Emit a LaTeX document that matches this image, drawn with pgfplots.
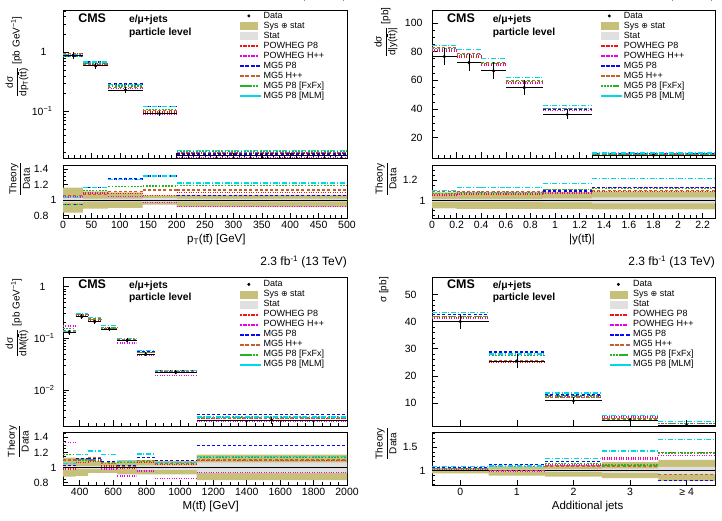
\documentclass[border=0pt]{standalone}
\usepackage{fontspec}
\setmainfont{Liberation Sans}
\newfontfamily\djv{DejaVu Sans}
\usepackage{amsmath}
\usepackage{pgfplots}
\usepackage{pgfplotstable}
\pgfplotsset{compat=1.18}

\definecolor{sysc}{RGB}{198,192,122}
\definecolor{statc}{RGB}{224,224,224}
\definecolor{cPP}{RGB}{240,20,20}
\definecolor{cPH}{RGB}{235,0,235}
\definecolor{cMP}{RGB}{10,10,245}
\definecolor{cMH}{RGB}{200,95,40}
\definecolor{cFX}{RGB}{35,180,35}
\definecolor{cML}{RGB}{0,215,235}

\tikzset{
  sPP/.style={color=cPP, line width=1.2pt, dash pattern=on 1pt off 1.4pt},
  sPH/.style={color=cPH, line width=1.2pt, dash pattern=on 1pt off 1.4pt},
  sMP/.style={color=cMP, line width=1.2pt, dash pattern=on 3pt off 2.2pt},
  sMH/.style={color=cMH, line width=1.2pt, dash pattern=on 3pt off 2.2pt},
  sFX/.style={color=cFX, line width=1.2pt, dash pattern=on 1.8pt off 1.4pt},
  sML/.style={color=cML, line width=1.2pt, dash pattern=on 5pt off 1.8pt on 1pt off 1.8pt},
}

% legend samples built from small filled pieces
\newcommand{\dotsample}[1]{\foreach \k in {0,...,6}{\fill[#1] (\k*2.6pt,-0.5pt) rectangle +(1pt,1pt);}}
\newcommand{\dashsample}[1]{\foreach \k in {0,...,3}{\fill[#1] (\k*5.3pt,-0.5pt) rectangle +(3pt,1pt);}}
\newcommand{\shortsample}[1]{\foreach \k in {0,...,5}{\fill[#1] (\k*3.1pt,-0.5pt) rectangle +(1.6pt,1pt);}}
\newcommand{\dashdotsample}[1]{\foreach \k in {0,1,2}{\fill[#1] (\k*7pt,-0.5pt) rectangle +(4pt,1pt);
  \fill[#1] (\k*7pt+5pt,-0.5pt) rectangle +(1pt,1pt);}}

% t tbar
\newcommand{\tbar}{\ooalign{t\cr\hidewidth\raisebox{0.74em}{\rule{0.3em}{0.06em}}\hidewidth\cr}}
\newcommand{\ttb}{t\tbar}

% Each table: e = lower bin edge (last row closes the final bin), c/ex = bin centre/half-width
% ---------- p_T(ttbar) ----------
\pgfplotstableread{
e    c    ex    d      de      pp      ph      mp      mh      fx      ml
0    17.5 17.5  0.89   0.13    0.935   0.926   0.837   0.943   0.837   0.917
35   57.5 22.5  0.59   0.07    0.637   0.649   0.684   0.631   0.661   0.684
80   110  30    0.23   0.025   0.248   0.242   0.292   0.255   0.269   0.290
140  170  30    0.092  0.008   0.0975  0.0888  0.1205  0.104   0.1086  0.1205
200  350  150   0.018  0.0014  0.0198  0.0166  0.0191  0.0203  0.0214  0.022
500  350  150   0.018  0.0014  0.0198  0.0166  0.0191  0.0203  0.0214  0.022
}\tA
\pgfplotstableread{
e    pp    ph     mp    mh    fx    ml
0    1.05  1.04   0.94  1.06  0.94  1.03
35   1.08  1.10   1.16  1.07  1.12  1.16
80   1.08  1.05   1.27  1.11  1.17  1.26
140  1.06  0.965  1.31  1.13  1.18  1.31
200  1.10  0.92   1.06  1.13  1.19  1.22
500  1.10  0.92   1.06  1.13  1.19  1.22
}\rA

% ---------- |y(ttbar)| ----------
\pgfplotstableread{
e    c     ex    d     de   pp    ph    mp    mh    fx    ml
0    0.1   0.1   76.5  5.7  79.9  81.1  83.0  83.0  81.9  84.2
0.2  0.3   0.1   72.3  5.8  76.3  77.4  78.8  78.8  78.1  81.7
0.4  0.5   0.1   66.6  6.0  70.3  71.3  72.6  72.6  71.9  75.3
0.6  0.75  0.15  54.9  5.0  57.9  58.7  59.8  59.8  59.3  62.0
0.9  1.1   0.2   36.2  3.5  38.7  39.1  39.6  40.2  40.2  42.4
1.3  1.8   0.5   7.7   0.8  8.35  8.66  8.66  8.47  8.59  9.39
2.3  1.8   0.5   7.7   0.8  8.35  8.66  8.66  8.47  8.59  9.39
}\tB
\pgfplotstableread{
e    pp     ph     mp     mh     fx     ml
0    1.045  1.06   1.085  1.085  1.07   1.10
0.2  1.055  1.07   1.09   1.09   1.08   1.13
0.4  1.055  1.07   1.09   1.09   1.08   1.13
0.6  1.055  1.07   1.09   1.09   1.08   1.13
0.9  1.07   1.08   1.093  1.11   1.11   1.17
1.3  1.085  1.125  1.125  1.10   1.115  1.22
2.3  1.085  1.125  1.125  1.10   1.115  1.22
}\rB

% ---------- M(ttbar) ----------
\pgfplotstableread{
e     c      ex     d        de       pp       ph       mp       mh       fx       ml
300   337.5  37.5   0.13     0.015    0.1274   0.1729   0.1339   0.143    0.1521   0.1365
375   412.5  37.5   0.262    0.028    0.2803   0.2856   0.2934   0.2908   0.2882   0.3065
450   490    40     0.21     0.018    0.2268   0.231    0.2352   0.2373   0.231    0.2562
530   577.5  47.5   0.151    0.011    0.154    0.148    0.1631   0.1616   0.1586   0.1767
625   682.5  57.5   0.0914   0.0085   0.0905   0.0813   0.0941   0.0923   0.0978   0.0987
740   795    55     0.049    0.0045   0.0524   0.0468   0.0554   0.0534   0.0529   0.0578
850   975    125    0.0219   0.002    0.0228   0.0188   0.0239   0.023    0.0234   0.0234
1100  1550   450    0.00261  0.00042  0.00284  0.00243  0.00337  0.00287  0.00298  0.003
2000  1550   450    0.00261  0.00042  0.00284  0.00243  0.00337  0.00287  0.00298  0.003
}\tC
\pgfplotstableread{
e     pp    ph     mp    mh    fx    ml
300   0.98  1.33   1.03  1.10  1.17  1.05
375   1.07  1.09   1.12  1.11  1.10  1.17
450   1.08  1.10   1.12  1.13  1.10  1.22
530   1.02  0.98   1.08  1.07  1.05  1.17
625   0.99  0.89   1.03  1.01  1.07  1.08
740   1.07  0.955  1.13  1.09  1.08  1.18
850   1.04  0.86   1.09  1.05  1.07  1.07
1100  1.09  0.93   1.29  1.10  1.14  1.15
2000  1.09  0.93   1.29  1.10  1.14  1.15
}\rC

% ---------- additional jets ----------
\pgfplotstableread{
e     c  ex   d     de    pp    ph    mp    mh    fx    ml
-0.5  0  0.5  40.0  2.6   41.6  41.2  42.6  42.0  42.0  43.2
0.5   1  0.5  25.5  2.4   25.0  25.2  28.8  25.5  27.5  28.05
1.5   2  0.5  10.9  1.3   12.4  12.2  13.0  12.0  12.6  13.7
2.5   3  0.5  3.8   0.6   4.9   4.75  4.14  4.18  4.26  5.4
3.5   4  0.5  1.9   0.45  2.64  2.53  1.48  1.73  2.62  3.17
4.5   4  0.5  1.9   0.45  2.64  2.53  1.48  1.73  2.62  3.17
}\tD
\pgfplotstableread{
e     pp     ph    mp     mh    fx    ml
-0.5  1.04   1.03  1.065  1.05  1.05  1.08
0.5   0.98   0.99  1.13   1.00  1.08  1.10
1.5   1.135  1.12  1.19   1.10  1.16  1.26
2.5   1.29   1.25  1.09   1.10  1.12  1.42
3.5   1.39   1.33  0.78   0.91  1.38  1.67
4.5   1.39   1.33  0.78   0.91  1.38  1.67
}\rD

\pgfplotsset{
  base/.style={scale only axis, anchor=south west, clip mode=individual,
    axis line style={line width=0.7pt}, tick style={line width=0.6pt, black},
    tick align=inside, tick pos=left,
    ticklabel style={font=\fontsize{10.5}{12}\selectfont},
    /pgf/number format/assume math mode=true,
    /pgf/number format/1000 sep={},
    xlabel style={font=\fontsize{11.5}{13}\selectfont, anchor=north, yshift=-13pt},
    ylabel style={font=\fontsize{10}{12}\selectfont, anchor=center},
  },
  mainax/.style={base, xticklabel=\empty, major tick length=6pt, minor tick length=3pt,
    title={2.3 fb\textsuperscript{-1} (13 TeV)},
    title style={at={(1,1)}, anchor=base east, yshift=5.5pt, inner sep=0pt,
      font=\fontsize{12}{14}\selectfont},
    legend cell align=left,
    legend style={anchor=north west, draw=none, fill=none, inner sep=0pt,
      row sep=1.5pt, font=\fontsize{9}{10}\selectfont,
      nodes={inner xsep=3pt, inner ysep=0pt, text height=6.5pt, text depth=2pt}},
  },
  ratioax/.style={base, major tick length=5pt, minor tick length=2.5pt,
    ylabel={\(\dfrac{\text{Theory}}{\text{Data}}\)},
    yticklabel style={xshift=-11pt, /pgf/number format/fixed},
    extra y ticks={1}, extra y tick labels={1},
    extra y tick style={yticklabel style={xshift=8pt}}},
  datapts/.style={forget plot, only marks, mark=*, mark size=1.4pt, black,
    error bars/.cd, x dir=both, x explicit, y dir=both, y explicit, error mark=none,
    error bar style={black, line width=0.8pt}},
  sysband/.style={const plot, fill=sysc, draw=none, forget plot},
  statband/.style={const plot, fill=statc, draw=none, forget plot},
}

\newcommand{\boxlegend}[1]{\addlegendimage{legend image code/.code={\fill[#1] (0pt,-3.5pt) rectangle (17pt,3.5pt);}}}
\newcommand{\cmslegend}{%
  \addlegendimage{only marks, mark=*, mark size=1.3pt, black}\addlegendentry{Data}
  \boxlegend{sysc}\addlegendentry{Sys {\djv\fontsize{8}{9}\selectfont ⊕} stat}
  \boxlegend{statc}\addlegendentry{Stat}
  \addlegendimage{legend image code/.code={\dotsample{cPP}}}\addlegendentry{POWHEG P8}
  \addlegendimage{legend image code/.code={\dotsample{cPH}}}\addlegendentry{POWHEG H++}
  \addlegendimage{legend image code/.code={\dashsample{cMP}}}\addlegendentry{MG5 P8}
  \addlegendimage{legend image code/.code={\dashsample{cMH}}}\addlegendentry{MG5 H++}
  \addlegendimage{legend image code/.code={\shortsample{cFX}}}\addlegendentry{MG5 P8 [FxFx]}
  \addlegendimage{legend image code/.code={\dashdotsample{cML}}}\addlegendentry{MG5 P8 [MLM]}
}
% one horizontal segment per bin, no vertical connectors
\newcommand{\theorylines}[1]{%
  \addplot[jump mark left, forget plot, mark=none, sPP] table[x=e, y=pp] {#1};
  \addplot[jump mark left, forget plot, mark=none, sPH] table[x=e, y=ph] {#1};
  \addplot[jump mark left, forget plot, mark=none, sMP] table[x=e, y=mp] {#1};
  \addplot[jump mark left, forget plot, mark=none, sMH] table[x=e, y=mh] {#1};
  \addplot[jump mark left, forget plot, mark=none, sFX] table[x=e, y=fx] {#1};
  \addplot[jump mark left, forget plot, mark=none, sML] table[x=e, y=ml] {#1};
}
\newcommand{\cmstags}[2]{%
  \node[anchor=base west, inner sep=0pt, font=\bfseries\fontsize{12.5}{14}\selectfont]
    at (rel axis cs:0.053,#2) {CMS};
  \node[anchor=base west, inner sep=0pt, font=\bfseries\fontsize{10.3}{12}\selectfont]
    at (rel axis cs:#1,#2) {e/μ+jets};
  \node[anchor=base west, inner sep=0pt, font=\bfseries\fontsize{10.3}{12}\selectfont]
    at (rel axis cs:#1,#2-0.085) {particle level};
}

\begin{document}
\begin{tikzpicture}

% ===== p_T(ttbar) =====
\begin{axis}[mainax, at={(63pt,362.5pt)}, width=284pt, height=148.5pt,
  xmin=0, xmax=500, xtick={0,50,...,500}, minor x tick num=4,
  ymode=log, ymin=0.016, ymax=5.2,
  ytick={0.1}, yticklabels={10\textsuperscript{−1}},
  extra y ticks={1}, extra y tick labels={1},
  extra y tick style={yticklabel style={xshift=-6pt}},
  minor ytick={0.02,0.03,0.04,0.05,0.06,0.07,0.08,0.09,0.2,0.3,0.4,0.5,0.6,0.7,0.8,0.9,2,3,4,5},
  yticklabel style={xshift=-7pt},
  ylabel={\(\dfrac{\text{dσ}}{\text{dp\textsubscript{T}(\ttb)}}\) [pb GeV\textsuperscript{−1}]},
  ylabel style={at={(axis description cs:-0.162,0.683)}},
  legend style={at={(0.623,0.99)}}]
\cmslegend
\theorylines{\tA}
\addplot[skip coords between index={5}{6}, datapts] table[x=c, y=d, x error=ex, y error=de] {\tA};
\cmstags{0.232}{0.914}
\end{axis}
\begin{axis}[ratioax, at={(63pt,303pt)}, width=284pt, height=53pt,
  xmin=0, xmax=500, xtick={0,50,...,500}, minor x tick num=4,
  ymin=0.77, ymax=1.45, ytick={0.8,1.2,1.4},
  minor ytick={0.85,0.9,0.95,1.05,1.1,1.15,1.25,1.3,1.35},
  ylabel style={at={(axis description cs:-0.153,0.736)}},
  xlabel={p\textsubscript{T}(\ttb) [GeV]},
  xlabel style={at={(axis description cs:0.54,0)}}]
% sys (+) stat and stat-only bands, bin edges 0,35,80,140,200,500
\addplot[sysband] coordinates {(0,1.16) (35,1.11) (80,1.10) (140,1.06) (200,1.065) (500,1.065)
  (500,0.91) (200,0.94) (140,0.90) (80,0.89) (35,0.84) (0,0.84)};
\addplot[statband] coordinates {(0,1.03) (35,1.02) (80,1.02) (140,1.025) (200,1.02) (500,1.02)
  (500,0.98) (200,0.975) (140,0.98) (80,0.98) (35,0.97) (0,0.97)};
\addplot[black, line width=0.7pt, forget plot] coordinates {(0,1) (500,1)};
\theorylines{\rA}
\end{axis}

% ===== |y(ttbar)| =====
\begin{axis}[mainax, at={(432pt,362.5pt)}, width=283pt, height=148.5pt,
  xmin=0, xmax=2.3, xtick={0,0.2,0.4,0.6,0.8,1,1.2,1.4,1.6,1.8,2,2.2}, minor x tick num=3,
  ymin=5.5, ymax=109, ytick={20,40,60,80,100}, minor y tick num=3,
  yticklabel style={xshift=-6pt},
  ylabel={\(\dfrac{\text{dσ}}{\text{d|y(\ttb)|}}\) [pb]},
  ylabel style={at={(axis description cs:-0.163,0.85)}},
  legend style={at={(0.595,0.99)}}]
\cmslegend
\theorylines{\tB}
\addplot[skip coords between index={6}{7}, datapts] table[x=c, y=d, x error=ex, y error=de] {\tB};
\cmstags{0.214}{0.914}
\end{axis}
\begin{axis}[ratioax, at={(432pt,303pt)}, width=283pt, height=53pt,
  xmin=0, xmax=2.3, xtick={0,0.2,0.4,0.6,0.8,1,1.2,1.4,1.6,1.8,2,2.2}, minor x tick num=3,
  ymin=0.826, ymax=1.35, ytick={1.2},
  minor ytick={0.85,0.9,0.95,1.05,1.1,1.15,1.25,1.3},
  ylabel style={at={(axis description cs:-0.163,0.736)}},
  xlabel={|y(\ttb)|},
  xlabel style={at={(axis description cs:0.53,0)}}]
% bin edges 0,0.2,0.4,0.6,0.9,1.3,2.3
\addplot[sysband] coordinates {(0,1.08) (0.2,1.085) (0.4,1.085) (0.6,1.085) (0.9,1.085) (1.3,1.09) (2.3,1.09)
  (2.3,0.91) (1.3,0.915) (0.9,0.915) (0.6,0.915) (0.4,0.915) (0.2,0.92) (0,0.92)};
\addplot[statband] coordinates {(0,1.015) (0.2,1.015) (0.4,1.015) (0.6,1.015) (0.9,1.02) (1.3,1.03) (2.3,1.03)
  (2.3,0.97) (1.3,0.98) (0.9,0.985) (0.6,0.985) (0.4,0.985) (0.2,0.985) (0,0.985)};
\addplot[black, line width=0.7pt, forget plot] coordinates {(0,1) (2.3,1)};
\theorylines{\rB}
\end{axis}

% ===== M(ttbar) =====
\begin{axis}[mainax, at={(63pt,95pt)}, width=284pt, height=149pt,
  xmin=300, xmax=2000, xtick={400,600,...,2000}, minor x tick num=3,
  ymode=log, ymin=0.002, ymax=1.54,
  ytick={0.01,0.1}, yticklabels={10\textsuperscript{−2},10\textsuperscript{−1}},
  extra y ticks={1}, extra y tick labels={1},
  extra y tick style={yticklabel style={xshift=-9pt}},
  minor ytick={0.003,0.004,0.005,0.006,0.007,0.008,0.009,0.02,0.03,0.04,0.05,0.06,0.07,0.08,0.09,0.2,0.3,0.4,0.5,0.6,0.7,0.8,0.9},
  yticklabel style={xshift=-5pt},
  ylabel={\(\dfrac{\text{dσ}}{\text{dM(\ttb)}}\) [pb GeV\textsuperscript{−1}]},
  ylabel style={at={(axis description cs:-0.162,0.725)}},
  legend style={at={(0.623,0.98)}}]
\cmslegend
\theorylines{\tC}
\addplot[skip coords between index={8}{9}, datapts] table[x=c, y=d, x error=ex, y error=de] {\tC};
\cmstags{0.232}{0.924}
\end{axis}
\begin{axis}[ratioax, at={(63pt,36pt)}, width=284pt, height=53pt,
  xmin=300, xmax=2000, xtick={400,600,...,2000}, minor x tick num=3,
  ymin=0.77, ymax=1.47, ytick={0.8,1.2,1.4},
  minor ytick={0.85,0.9,0.95,1.05,1.1,1.15,1.25,1.3,1.35,1.45},
  ylabel style={at={(axis description cs:-0.158,0.82)}},
  xlabel={M(\ttb) [GeV]},
  xlabel style={at={(axis description cs:0.52,0)}}]
% bin edges 300,375,450,530,625,740,850,1100,2000
\addplot[sysband] coordinates {(300,1.13) (375,1.12) (450,1.09) (530,1.07) (625,1.10) (740,1.10) (850,1.09) (1100,1.17) (2000,1.17)
  (2000,0.835) (1100,0.91) (850,0.91) (740,0.91) (625,0.93) (530,0.93) (450,0.89) (375,0.88) (300,0.88)};
\addplot[statband] coordinates {(300,1.03) (375,1.02) (450,1.02) (530,1.02) (625,1.02) (740,1.03) (850,1.03) (1100,1.07) (2000,1.07)
  (2000,0.93) (1100,0.97) (850,0.97) (740,0.98) (625,0.98) (530,0.98) (450,0.98) (375,0.97) (300,0.97)};
\addplot[black, line width=0.7pt, forget plot] coordinates {(300,1) (2000,1)};
\theorylines{\rC}
\end{axis}

% ===== additional jets =====
\begin{axis}[mainax, at={(432pt,95pt)}, width=283pt, height=149pt,
  xmin=-0.5, xmax=4.5, xtick={0,1,2,3,4},
  ymin=1.6, ymax=56.4, ytick={10,20,30,40,50}, minor y tick num=4,
  yticklabel style={xshift=-12pt},
  ylabel={σ [pb]},
  ylabel style={at={(axis description cs:-0.17,0.913)}},
  legend style={at={(0.627,0.98)}}]
\cmslegend
\theorylines{\tD}
\addplot[skip coords between index={5}{6}, datapts] table[x=c, y=d, x error=ex, y error=de] {\tD};
\cmstags{0.214}{0.924}
\end{axis}
\begin{axis}[ratioax, at={(432pt,36pt)}, width=283pt, height=53pt,
  xmin=-0.5, xmax=4.5, xtick={0,1,2,3,4}, xticklabels={0,1,2,3,≥ 4},
  ymin=0.69, ymax=1.83, ytick={1.5},
  minor ytick={0.7,0.8,0.9,1.1,1.2,1.3,1.4,1.6,1.7,1.8},
  ylabel style={at={(axis description cs:-0.163,0.78)}},
  xlabel={Additional jets},
  xlabel style={at={(axis description cs:0.55,0)}}]
% bin edges -0.5,0.5,...,4.5
\addplot[sysband] coordinates {(-0.5,1.06) (0.5,1.09) (1.5,1.12) (2.5,1.18) (3.5,1.23) (4.5,1.23)
  (4.5,0.78) (3.5,0.84) (2.5,0.87) (1.5,0.89) (0.5,0.94) (-0.5,0.94)};
\addplot[statband] coordinates {(-0.5,1.01) (0.5,1.02) (1.5,1.03) (2.5,1.05) (3.5,1.08) (4.5,1.08)
  (4.5,0.92) (3.5,0.95) (2.5,0.97) (1.5,0.98) (0.5,0.99) (-0.5,0.99)};
\addplot[black, line width=0.7pt, forget plot] coordinates {(-0.5,1) (4.5,1)};
\theorylines{\rD}
\end{axis}

\pgfresetboundingbox
\useasboundingbox (0pt,0pt) rectangle (722pt,521pt);
\end{tikzpicture}
\end{document}
